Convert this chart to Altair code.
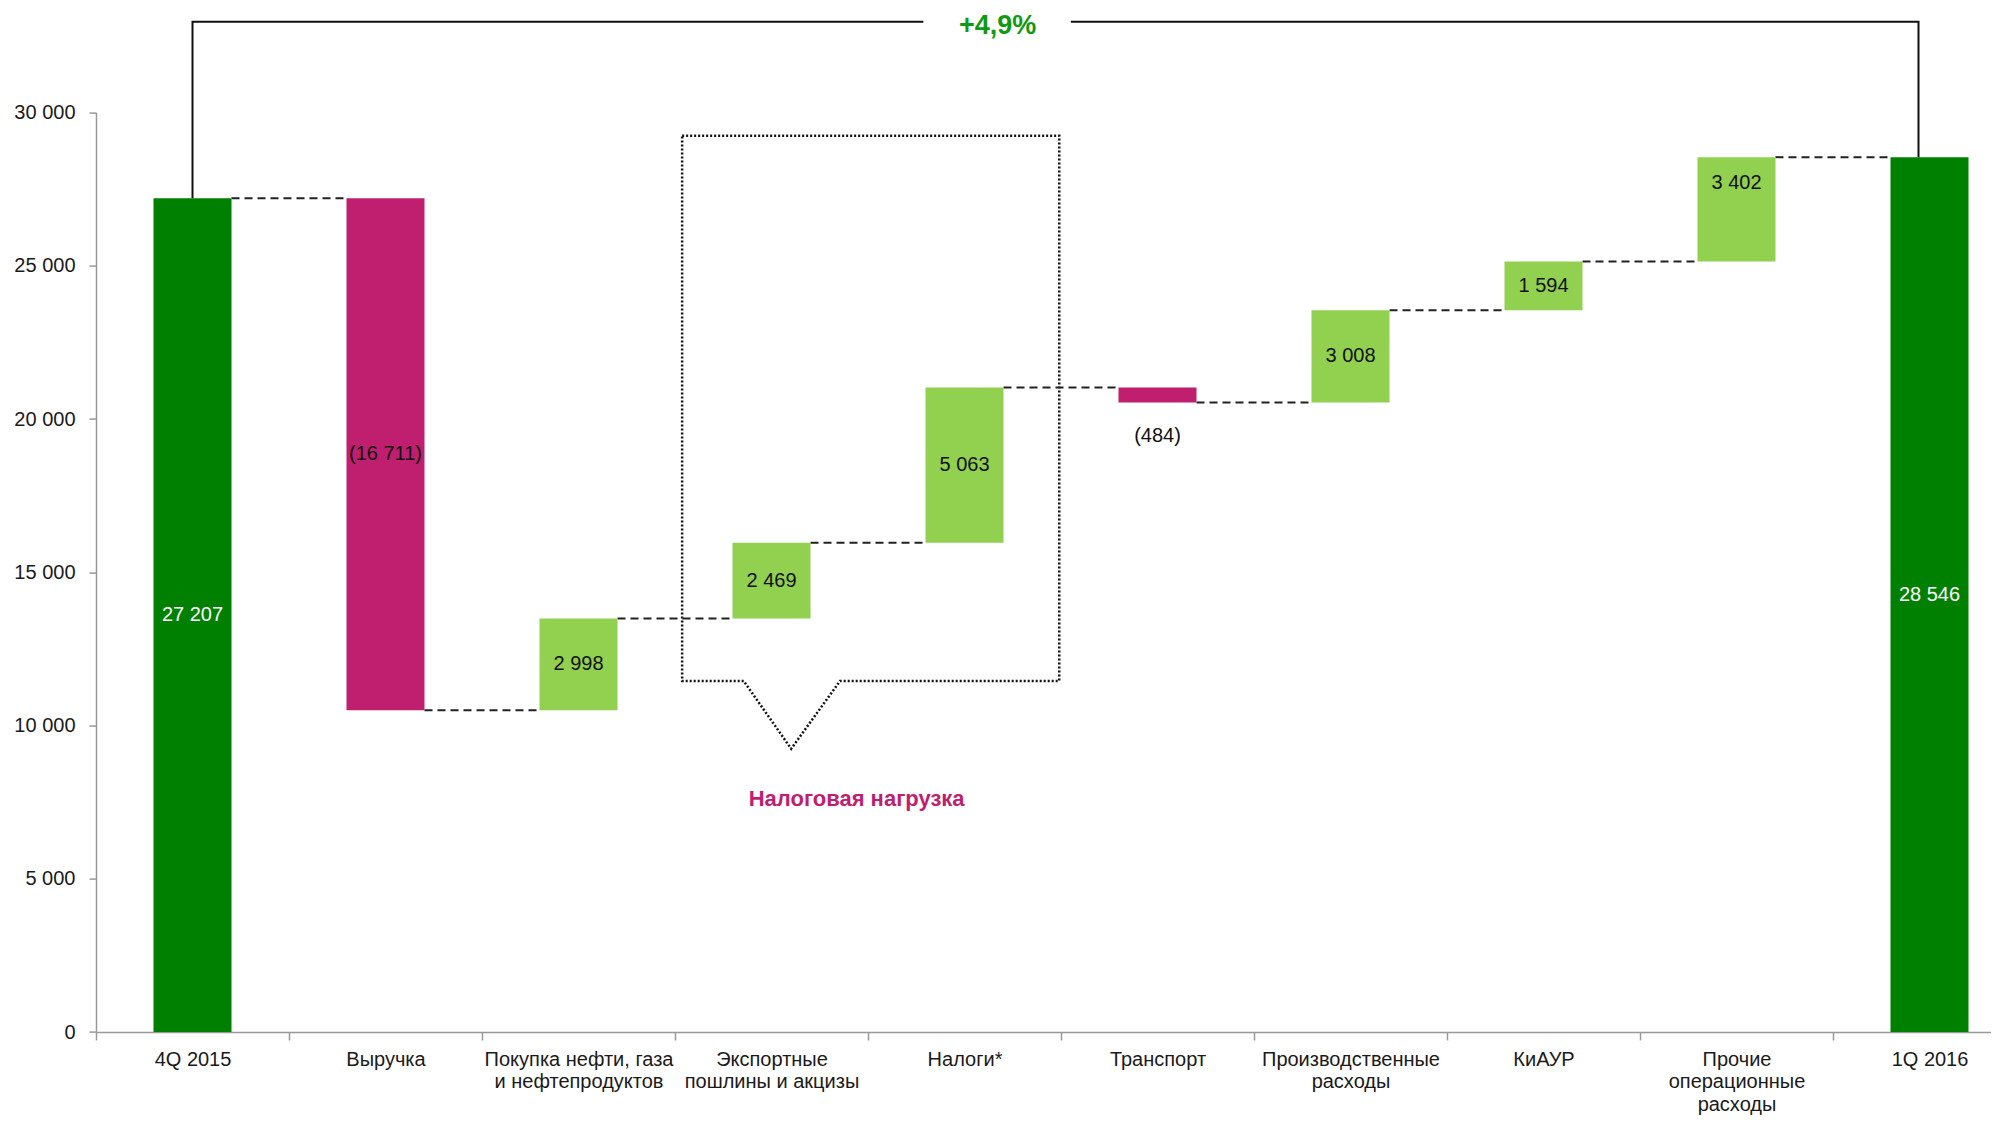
import json
import altair as alt
import pandas as pd

# ---------------- data ----------------
categories = [
    "4Q 2015",
    "Выручка",
    "Покупка нефти, газа|и нефтепродуктов",
    "Экспортные|пошлины и акцизы",
    "Налоги*",
    "Транспорт",
    "Производственные|расходы",
    "КиАУР",
    "Прочие|операционные|расходы",
    "1Q 2016",
]
kinds = ["total", "delta", "delta", "delta", "delta", "delta", "delta", "delta", "delta", "total"]
values = [27207, -16711, 2998, 2469, 5063, -484, 3008, 1594, 3402, 28546]
y_ticks = [0, 5000, 10000, 15000, 20000, 25000, 30000]

# annotation shapes (in category-index units / value units)
bracket_x = [0.5, 0.5, 4.287, 5.051, 9.443, 9.443]
bracket_y = [27207, 32968, 32968, 32968, 32968, 28546]
bracket_seg = [1, 1, 1, 2, 2, 2]
callout_x = [3.037, 4.991, 4.991, 3.855, 3.602, 3.356, 3.037, 3.037]
callout_y = [29246, 29246, 11453, 11453, 9241, 11453, 11453, 29246]
callout_text = "Налоговая нагрузка"
callout_text_x = 3.941
callout_text_y = 7613
pct_text_x = 4.672
pct_text_y = 32839

DARK_GREEN = "#008000"
MAGENTA = "#C01E6E"
LIGHT_GREEN = "#92D050"
PCT_GREEN = "#119A11"
FONT = "Liberation Sans, Arial, sans-serif"


def fmt(v):
    s = f"{abs(v):,}".replace(",", " ")
    return f"({s})" if v < 0 else s


rows = []
running = 0
for i, (c, k, v) in enumerate(zip(categories, kinds, values)):
    if k == "total":
        start, end = 0, v
    else:
        start, end = running, running + v
    running = end
    color_kind = "total" if k == "total" else ("neg" if v < 0 else "pos")
    rows.append(dict(cat=c, pos=i + 0.5, start=start, end=end, mid=(start + end) / 2,
                     kind=color_kind, label=fmt(v)))
df = pd.DataFrame(rows)

conn = pd.DataFrame([
    dict(pos=rows[i]["pos"], pos2=rows[i + 1]["pos"], val=rows[i]["end"])
    for i in range(len(rows) - 1)
])

bracket = pd.DataFrame(dict(pos=bracket_x, val=bracket_y, seg=bracket_seg,
                            ord=list(range(len(bracket_x)))))
callout = pd.DataFrame(dict(pos=callout_x, val=callout_y, ord=list(range(len(callout_x)))))
pct = values[-1] / values[0] - 1
pct_label = ("+" if pct >= 0 else "") + f"{pct*100:.1f}".replace(".", ",") + "%"
texts = pd.DataFrame([dict(pos=pct_text_x, val=pct_text_y, t=pct_label)])
texts2 = pd.DataFrame([dict(pos=callout_text_x, val=callout_text_y, t=callout_text)])

# ---------------- scales / axes ----------------
BAND_PX = 193.0
WIDTH = 1895
HEIGHT = 919.4
x_scale = alt.Scale(domain=[0, WIDTH / BAND_PX], nice=False, zero=False, padding=0)
y_scale = alt.Scale(domain=[0, 30000], nice=False, padding=0)

cat_js = json.dumps(categories, ensure_ascii=False)
x_axis = alt.Axis(
    values=list(range(len(categories))),
    labelOffset=BAND_PX / 2,
    labelExpr=f"split({cat_js}[datum.value], '|')",
    labelFlush=False,
    labelOverlap=False,
    labelLimit=0,
    labelFont=FONT,
    labelFontSize=20,
    labelColor="#1a1a1a",
    labelLineHeight=22.5,
    labelPadding=9,
    tickSize=8,
    tickColor="#999999",
    tickWidth=1.5,
    domainColor="#999999",
    domainWidth=1.5,
    grid=False,
    title=None,
)
y_axis = alt.Axis(
    values=y_ticks,
    labelExpr="replace(format(datum.value, ',d'), ',', ' ')",
    labelFont=FONT,
    labelFontSize=20,
    labelColor="#1a1a1a",
    labelPadding=14,
    tickSize=7,
    tickColor="#999999",
    tickWidth=1.5,
    domainColor="#999999",
    domainWidth=1.5,
    grid=False,
    title=None,
)

X = lambda f="pos": alt.X(f"{f}:Q", scale=x_scale, title=None)
Y = lambda f: alt.Y(f"{f}:Q", scale=y_scale, title=None)

connectors = alt.Chart(conn).mark_rule(
    strokeDash=[8, 5], strokeWidth=2, color="#222222", xOffset=39, x2Offset=-39
).encode(x=X(), x2=alt.X2("pos2:Q"), y=Y("val"))

bars = alt.Chart(df).mark_bar(size=78).encode(
    x=alt.X("pos:Q", scale=x_scale, axis=x_axis, title=None),
    y=alt.Y("start:Q", scale=y_scale, axis=y_axis, title=None),
    y2="end:Q",
    color=alt.Color("kind:N", scale=alt.Scale(domain=["total", "neg", "pos"],
                                              range=[DARK_GREEN, MAGENTA, LIGHT_GREEN]),
                    legend=None),
)

special_top = categories[8]
special_below = categories[5]

mid_labels = alt.Chart(df).transform_filter(
    (alt.datum.cat != special_top) & (alt.datum.cat != special_below)
).mark_text(font=FONT, fontSize=20, baseline="middle").encode(
    x=X(), y=Y("mid"), text="label:N",
    color=alt.condition(alt.datum.kind == "total", alt.value("white"), alt.value("#111111")),
)
top_label = alt.Chart(df).transform_filter(alt.datum.cat == special_top).mark_text(
    font=FONT, fontSize=20, baseline="middle", dy=26, color="#111111"
).encode(x=X(), y=Y("end"), text="label:N")
below_label = alt.Chart(df).transform_filter(alt.datum.cat == special_below).mark_text(
    font=FONT, fontSize=20, baseline="middle", dy=34, color="#111111"
).encode(x=X(), y=Y("end"), text="label:N")

bracket_lines = alt.Chart(bracket).mark_line(color="#111111", strokeWidth=2).encode(
    x=X(), y=Y("val"), detail="seg:N", order="ord:Q"
)
callout_box = alt.Chart(callout).mark_line(
    color="#111111", strokeWidth=2.5, strokeDash=[2, 2]
).encode(x=X(), y=Y("val"), order="ord:Q")

pct_text = alt.Chart(texts).mark_text(
    font=FONT, fontSize=27, fontWeight="bold", color=PCT_GREEN, baseline="middle"
).encode(x=X(), y=Y("val"), text="t:N")
callout_label = alt.Chart(texts2).mark_text(
    font=FONT, fontSize=22, fontWeight="bold", color=MAGENTA, baseline="middle"
).encode(x=X(), y=Y("val"), text="t:N")

chart = alt.layer(
    callout_box, connectors, bars, mid_labels, top_label, below_label,
    bracket_lines, pct_text, callout_label
).properties(
    width=WIDTH,
    height=HEIGHT,
    autosize=alt.AutoSizeParams(type="none"),
    padding={"left": 88, "top": 104.6, "right": 0, "bottom": 84},
    background="white",
).configure_view(stroke=None)

chart.save("out.html", embed_options={"renderer": "svg", "actions": False})
